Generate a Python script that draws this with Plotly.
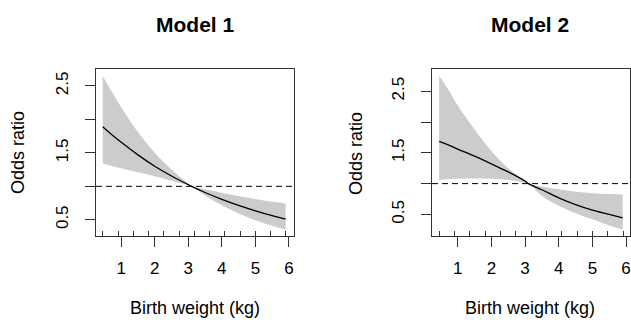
import plotly.graph_objects as go

# ---------------- data ----------------
x_grid = [0.45, 0.75, 1.0, 1.5, 2.0, 2.5, 3.0, 3.1, 3.5, 4.0, 4.5, 5.0, 5.5, 5.9]

m1_or    = [1.89, 1.76, 1.66, 1.47, 1.30, 1.155, 1.025, 1.0, 0.908, 0.806, 0.715, 0.634, 0.562, 0.51]
m1_upper = [2.65, 2.39, 2.18, 1.81, 1.50, 1.25, 1.04, 1.0, 0.957, 0.906, 0.857, 0.811, 0.768, 0.745]
m1_lower = [1.345, 1.30, 1.27, 1.21, 1.15, 1.085, 1.015, 1.0, 0.862, 0.717, 0.596, 0.495, 0.411, 0.355]

m2_or    = [1.685, 1.62, 1.56, 1.445, 1.32, 1.19, 1.04, 1.0, 0.90, 0.77, 0.66, 0.57, 0.50, 0.445]
m2_upper = [2.75, 2.50, 2.27, 1.88, 1.53, 1.25, 1.05, 1.0, 0.955, 0.91, 0.87, 0.845, 0.83, 0.825]
m2_lower = [1.06, 1.075, 1.08, 1.085, 1.08, 1.06, 1.015, 1.0, 0.80, 0.64, 0.52, 0.42, 0.32, 0.255]

rug_x = [0.45, 0.91, 1.36, 1.82, 2.27, 2.73, 3.18, 3.64, 4.09, 4.55, 5.00, 5.45, 5.91]

ref_or = 1.0
titles = ["Model 1", "Model 2"]
x_title = "Birth weight (kg)"
y_title = "Odds ratio"
x_ticks = [1, 2, 3, 4, 5, 6]
y_ticks = [0.5, 1.0, 1.5, 2.0, 2.5]
y_ticktext = ["0.5", "", "1.5", "", "2.5"]

# ---------------- layout constants ----------------
W, H = 631, 322
FONT = "Liberation Sans, Arial, sans-serif"
BAND = "#cccccc"
AX = "#333333"


def px(xp):
    return xp / W


def py(yp):
    return 1 - yp / H


panels = [
    dict(data=(m1_or, m1_upper, m1_lower), xdom=(px(96), px(294)), xr=(0.25, 6.15),
         yr=(0.258, 2.753), ttl_x=195, ylab_x=18),
    dict(data=(m2_or, m2_upper, m2_lower), xdom=(px(432), px(630)), xr=(0.237, 6.116),
         yr=(0.15, 2.86), ttl_x=530, ylab_x=356),
]
ydom = (py(236), py(69))

fig = go.Figure()
layout = dict(width=W, height=H, margin=dict(l=0, r=0, t=0, b=0),
              plot_bgcolor="white", paper_bgcolor="white", showlegend=False,
              font=dict(family=FONT, color="black"))
annotations = []
shapes = []

for i, p in enumerate(panels):
    n = i + 1
    xa = "x" if n == 1 else "x2"
    ya = "y" if n == 1 else "y2"
    xr_name = "xaxis" if n == 1 else "xaxis2"
    yr_name = "yaxis" if n == 1 else "yaxis2"
    rug_axis_num = 3 if n == 1 else 4
    orv, up, lo = p["data"]

    # confidence band
    fig.add_trace(go.Scatter(x=x_grid, y=lo, xaxis=xa, yaxis=ya, mode="lines",
                             line=dict(width=0, color=BAND, shape="spline"),
                             hoverinfo="skip"))
    fig.add_trace(go.Scatter(x=x_grid, y=up, xaxis=xa, yaxis=ya, mode="lines",
                             line=dict(width=0, color=BAND, shape="spline"),
                             fill="tonexty", fillcolor=BAND, hoverinfo="skip"))
    # point estimate
    fig.add_trace(go.Scatter(x=x_grid, y=orv, xaxis=xa, yaxis=ya, mode="lines",
                             line=dict(width=1.3, color="black", shape="spline")))
    # invisible trace to attach rug axis
    fig.add_trace(go.Scatter(x=rug_x, y=[ref_or] * len(rug_x),
                             xaxis="x%d" % rug_axis_num, yaxis=ya, mode="markers",
                             marker=dict(opacity=0), hoverinfo="skip"))

    layout[xr_name] = dict(domain=list(p["xdom"]), range=list(p["xr"]), anchor=ya,
                           tickmode="array", tickvals=x_ticks,
                           ticks="outside", ticklen=10, tickwidth=1, tickcolor=AX,
                           showline=True, linecolor=AX, linewidth=1, mirror=True,
                           showgrid=False, zeroline=False,
                           tickfont=dict(size=17), ticklabelstandoff=7)
    layout[yr_name] = dict(domain=list(ydom), range=list(p["yr"]), anchor=xa,
                           tickmode="array", tickvals=y_ticks, ticktext=y_ticktext,
                           ticks="outside", ticklen=10, tickwidth=1, tickcolor=AX,
                           showline=True, linecolor=AX, linewidth=1, mirror=True,
                           showgrid=False, zeroline=False, tickangle=-90,
                           tickfont=dict(size=17), ticklabelstandoff=10)
    layout["xaxis%d" % rug_axis_num] = dict(overlaying=xa, anchor=ya, range=list(p["xr"]),
                                            tickmode="array", tickvals=rug_x,
                                            ticks="inside", ticklen=5, tickwidth=1,
                                            tickcolor=AX, showticklabels=False,
                                            showline=False, showgrid=False, zeroline=False,
                                            side="bottom")

    # reference line at OR = 1
    shapes.append(dict(type="line", xref="%s domain" % xa, x0=0, x1=1,
                       yref=ya, y0=ref_or, y1=ref_or,
                       line=dict(color="black", width=1, dash="6px,4px")))

    annotations.append(dict(text="<b>%s</b>" % titles[i], xref="paper", yref="paper",
                            x=px(p["ttl_x"]), y=py(24), xanchor="center",
                            yanchor="middle", showarrow=False,
                            font=dict(size=21, family=FONT, color="black")))
    annotations.append(dict(text=x_title, xref="paper", yref="paper",
                            x=px(p["ttl_x"]), y=py(308), xanchor="center",
                            yanchor="middle", showarrow=False,
                            font=dict(size=18, family=FONT, color="black")))
    annotations.append(dict(text=y_title, xref="paper", yref="paper",
                            x=px(p["ylab_x"]), y=py(153), xanchor="center",
                            yanchor="middle", showarrow=False, textangle=-90,
                            font=dict(size=18, family=FONT, color="black")))

layout["annotations"] = annotations
layout["shapes"] = shapes
fig.update_layout(**layout)

# remove the default page margin so the figure sits at the window's top-left corner
page_js = "document.body.style.margin='0';document.body.style.overflow='hidden';"
fig.write_html("out.html", post_script=page_js, config={"displayModeBar": False})
